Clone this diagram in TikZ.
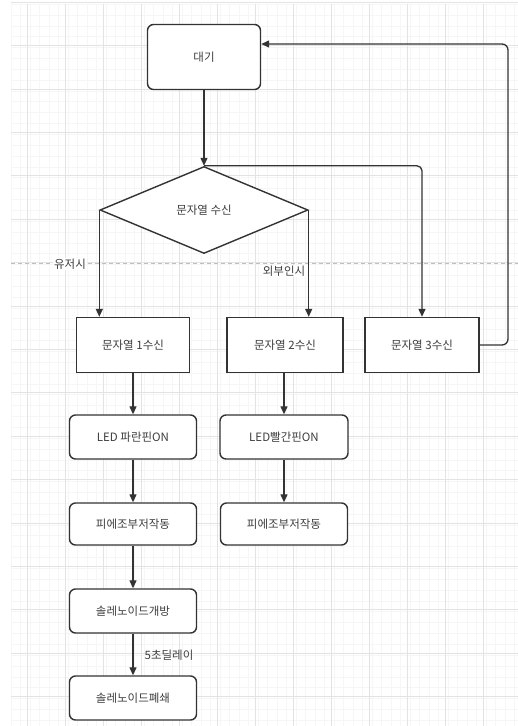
\documentclass[tikz,border=0pt]{standalone}
\usepackage{fontspec}
\setmainfont{Noto Sans CJK KR}
\usetikzlibrary{shapes.geometric,arrows.meta}
\definecolor{ink}{HTML}{333333}
\definecolor{txt}{HTML}{3d3d3d}
\begin{document}
\begin{tikzpicture}[x=1pt,y=-1pt,
  every node/.style={font=\fontsize{11.5}{13}\selectfont, text=txt},
  roundbox/.style={draw=ink, line width=1.4pt, rounded corners=6pt, fill=white, inner sep=0pt},
  sharpbox/.style={draw=ink, line width=1.4pt, fill=white, inner sep=0pt},
  decbox/.style={draw=ink, line width=1.4pt, fill=white, shape=diamond, inner sep=0pt, shape aspect=2.4},
  link/.style={draw=ink, line width=1.3pt, -{Triangle[length=8pt,width=7pt]}},
  tag/.style={fill=white, inner sep=1pt}
]
\useasboundingbox (0,0) rectangle (518,726);
\fill[white] (0,0) rectangle (518,726);
% grid
\foreach \gx in {0,...,53} {\draw[gray!7, line width=0.4pt] ({11+9.5*\gx},4) -- ({11+9.5*\gx},726);}
\foreach \gy in {0,...,66} {\draw[gray!7, line width=0.4pt] (11,{4+10.85*\gy}) -- (518,{4+10.85*\gy});}
\foreach \gx in {0,...,13} {\draw[gray!22, line width=0.5pt] ({27+38*\gx},4) -- ({27+38*\gx},726);}
\foreach \gy in {0,...,16} {\draw[gray!22, line width=0.5pt] (11,{2+43.4*\gy}) -- (518,{2+43.4*\gy});}
\draw[gray!50, dash pattern=on 4pt off 3pt, line width=0.8pt] (11,263) -- (518,263);

% nodes
\node[roundbox, minimum width=113pt, minimum height=65pt] (wait) at (204,57) {대기};
\node[decbox, minimum width=208pt, minimum height=87pt] (dec) at (204,210) {문자열 수신};
\node[sharpbox, minimum width=113pt, minimum height=55pt] (r1) at (133,345) {문자열 1수신};
\node[sharpbox, minimum width=116pt, minimum height=55pt] (r2) at (285,345) {문자열 2수신};
\node[sharpbox, minimum width=114pt, minimum height=55pt] (r3) at (422,345) {문자열 3수신};
\node[roundbox, minimum width=127pt, minimum height=44pt] (led1) at (133,437) {LED 파란핀ON};
\node[roundbox, minimum width=128pt, minimum height=44pt] (led2) at (284,437) {LED빨간핀ON};
\node[roundbox, minimum width=127pt, minimum height=42pt] (pz1) at (133,524) {피에조부저작동};
\node[roundbox, minimum width=127pt, minimum height=42pt] (pz2) at (284,524) {피에조부저작동};
\node[roundbox, minimum width=127pt, minimum height=44pt] (sopen) at (133,611) {솔레노이드개방};
\node[roundbox, minimum width=127pt, minimum height=44pt] (sclose) at (133,698) {솔레노이드폐쇄};

% connectors
\draw[link] (wait.south) -- (dec.north);
\draw[link, rounded corners=5pt] (dec.north) -| (r3.north);
\draw[link] (dec.west) -- (dec.west |- r1.north);
\draw[link] (dec.east) -- (dec.east |- r2.north);
\coordinate (loopc) at (508,44);
\draw[link, rounded corners=6pt] (r3.east) -| (loopc) -- (wait.east |- loopc);
\draw[link] (r1.south) -- (led1.north);
\draw[link] (led1.south) -- (pz1.north);
\draw[link] (pz1.south) -- (sopen.north);
\draw[link] (sopen.south) -- (sclose.north);
\draw[link] (r2.south -| led2.north) -- (led2.north);
\draw[link] (led2.south) -- (pz2.north);

% labels
\node[tag] (luser) at (70,264) {유저시};
\node[tag] (lout) at (284,271) {외부인시};
\node[tag, fill=none] (ldelay) at (169,655) {5초딜레이};
\end{tikzpicture}
\end{document}
